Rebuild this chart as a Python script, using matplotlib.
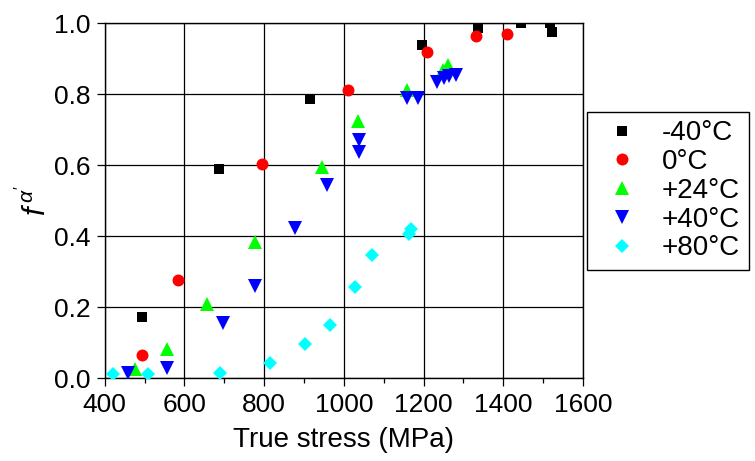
import matplotlib
matplotlib.use("Agg")
import matplotlib.pyplot as plt

plt.rcParams['font.family'] = ['Liberation Sans', 'DejaVu Sans']
plt.rcParams['mathtext.fontset'] = 'custom'
plt.rcParams['mathtext.rm'] = 'Liberation Sans'
plt.rcParams['mathtext.it'] = 'Liberation Sans:italic'

labels = ['-40°C', '0°C', '+24°C', '+40°C', '+80°C']

x_m40 = [493, 687, 915, 1195, 1337, 1444, 1517, 1522]
y_m40 = [0.173, 0.588, 0.787, 0.938, 0.986, 1.0, 1.0, 0.976]

x_0 = [493, 583, 794, 1011, 1208, 1332, 1409]
y_0 = [0.065, 0.276, 0.604, 0.811, 0.919, 0.963, 0.969]

x_24 = [476, 556, 657, 777, 944, 1036, 1159, 1248, 1262]
y_24 = [0.025, 0.081, 0.210, 0.384, 0.595, 0.725, 0.813, 0.868, 0.882]

x_40 = [459, 556, 696, 777, 878, 958, 1039, 1039, 1158, 1185, 1233, 1250, 1265, 1282]
y_40 = [0.013, 0.029, 0.154, 0.259, 0.422, 0.544, 0.670, 0.637, 0.788, 0.788, 0.835, 0.845, 0.852, 0.855]

x_80 = [420, 508, 689, 815, 903, 965, 1028, 1070, 1163, 1168]
y_80 = [0.010, 0.010, 0.013, 0.041, 0.095, 0.149, 0.257, 0.346, 0.407, 0.420]

x_ticks = [400, 600, 800, 1000, 1200, 1400, 1600]
y_ticks = [0.0, 0.2, 0.4, 0.6, 0.8, 1.0]

fig = plt.figure(figsize=(7.55, 4.61), dpi=100)
ax = fig.add_axes([0.1387, 0.180, 0.6335, 0.7695])

series = [
    (x_m40, y_m40, 's', 'black', 7.2),
    (x_0, y_0, 'o', 'red', 8.6),
    (x_24, y_24, '^', '#00ff00', 9.5),
    (x_40, y_40, 'v', 'blue', 9.5),
    (x_80, y_80, 'D', 'cyan', 7.0),
]
for (xs, ys, mk, col, ms), lab in zip(series, labels):
    ax.plot(xs, ys, linestyle='none', marker=mk, color=col, markersize=ms,
            markeredgewidth=0, label=lab, zorder=3)

ax.set_xlim(400, 1600)
ax.set_ylim(0, 1.0)
ax.set_xticks(x_ticks)
ax.set_xticks([500, 700, 900, 1100, 1300, 1500], minor=True)
ax.set_yticks(y_ticks)
ax.set_yticklabels([f'{v:.1f}' for v in y_ticks])
ax.grid(True, which='major', color='black', linewidth=0.9, zorder=0)
ax.set_axisbelow(True)
for s in ax.spines.values():
    s.set_color('black')
    s.set_linewidth(1.0)
ax.tick_params(axis='both', which='major', direction='out', length=6, width=0.9,
               labelsize=19, pad=4, color='black')
ax.tick_params(axis='x', which='minor', direction='out', length=3.5, width=0.9)
ax.tick_params(axis='x', which='major', pad=5)

ax.set_xlabel('True stress (MPa)', fontsize=20, labelpad=7)
ax.set_ylabel(r"$f^{\,\alpha'}$", fontsize=22, labelpad=1)

leg = fig.legend(loc='upper left', bbox_to_anchor=(0.7775, 0.757), fontsize=20,
                 frameon=True, fancybox=False, edgecolor='black', framealpha=1,
                 borderpad=0.3, labelspacing=0.1, handletextpad=0.5,
                 handlelength=1.9, borderaxespad=0)
leg.get_frame().set_linewidth(1.0)

fig.savefig('out.png', dpi=100)
